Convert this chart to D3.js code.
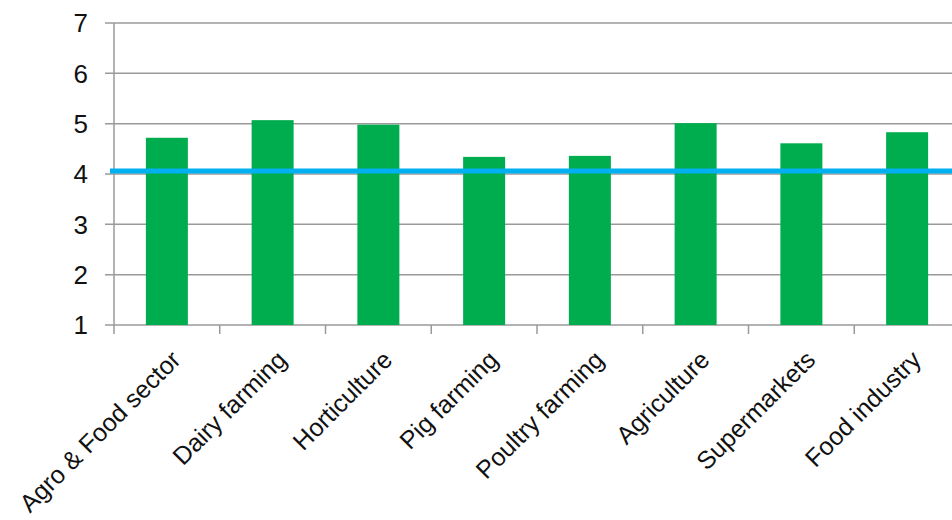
<!DOCTYPE html>
<html><head><meta charset="utf-8">
<script src="https://cdn.jsdelivr.net/npm/d3@7"></script>
<style>body{margin:0;background:#fff}svg{display:block}</style>
</head><body>
<svg id="c" width="952" height="520"></svg>
<script>
const categories = ["Agro & Food sector","Dairy farming","Horticulture","Pig farming","Poultry farming","Agriculture","Supermarkets","Food industry"];
const values = [4.72, 5.07, 4.98, 4.34, 4.36, 5.01, 4.61, 4.83];
const referenceValue = 4.06;
const yTicks = [1,2,3,4,5,6,7];

(function(){
const svg = d3.select("#c");
const mLeft = 114, mRight = 960, mTop = 23, mBottom = 325;
const xb = d3.scaleBand().domain(categories).range([mLeft, mRight]);
const y = d3.scaleLinear().domain([1,7]).range([mBottom, mTop]);
const font = "'Liberation Sans', Arial, sans-serif";
const grid = "#9a9a9a";

svg.append("g").selectAll("line").data(yTicks).join("line")
  .attr("x1", mLeft - 9).attr("x2", 952).attr("y1", d=>y(d)).attr("y2", d=>y(d))
  .attr("stroke", grid).attr("stroke-width", 1.5);
svg.append("line").attr("x1", mLeft).attr("x2", mLeft).attr("y1", mTop).attr("y2", mBottom + 9)
  .attr("stroke", grid).attr("stroke-width", 1.5);
svg.append("g").selectAll("line").data(categories.slice(1)).join("line")
  .attr("x1", d=>xb(d)).attr("x2", d=>xb(d)).attr("y1", mBottom).attr("y2", mBottom + 9)
  .attr("stroke", grid).attr("stroke-width", 1.5);
svg.append("g").selectAll("text").data(yTicks).join("text")
  .attr("x", 88).attr("y", d=>y(d)).attr("dy", "0.36em").attr("text-anchor","end")
  .attr("font-family", font).attr("font-size", 26).attr("fill","#111").text(d=>d);
svg.append("g").selectAll("rect").data(values).join("rect")
  .attr("x", (d,i)=>xb(categories[i]) + xb.bandwidth()/2 - 21)
  .attr("width", 42)
  .attr("y", d=>y(d)).attr("height", d=>y(1)-y(d))
  .attr("fill", "#00AD4E");
svg.append("line").attr("x1", 110).attr("x2", 952)
  .attr("y1", y(referenceValue)).attr("y2", y(referenceValue))
  .attr("stroke", "#00B0F0").attr("stroke-width", 5);
svg.append("g").selectAll("text").data(categories).join("text")
  .attr("transform", d=>`translate(${xb(d)+xb.bandwidth()/2+3},${mBottom+24}) rotate(-45)`)
  .attr("text-anchor","end").attr("dy","0.7em")
  .attr("font-family", font).attr("font-size", 25).attr("fill","#111").text(d=>d);
})();
</script>
</body></html>
